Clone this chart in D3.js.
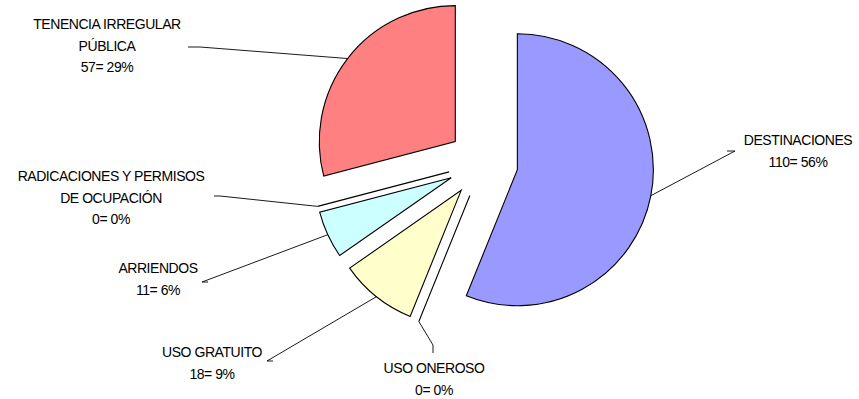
<!DOCTYPE html>
<html>
<head>
<meta charset="utf-8">
<script src="https://cdn.jsdelivr.net/npm/d3@7"></script>
<style>
  html, body { margin: 0; padding: 0; background: #fff; }
  svg { display: block; }
  text { font-family: "Liberation Sans", Arial, sans-serif; font-size: 14px; letter-spacing: -0.45px; fill: #000; }
</style>
</head>
<body>
<svg id="chart" width="859" height="399"></svg>
<script>
// ---- data ----
const categories = ["DESTINACIONES", "USO ONEROSO", "USO GRATUITO", "ARRIENDOS", "RADICACIONES Y PERMISOS DE OCUPACIÓN", "TENENCIA IRREGULAR PÚBLICA"];
const labelLines = [
  ["DESTINACIONES"],
  ["USO ONEROSO"],
  ["USO GRATUITO"],
  ["ARRIENDOS"],
  ["RADICACIONES Y PERMISOS", "DE OCUPACIÓN"],
  ["TENENCIA IRREGULAR", "PÚBLICA"]
];
const values = [110, 0, 18, 11, 0, 57];
const percents = ["56%", "0%", "9%", "6%", "0%", "29%"];
const colors = ["#9999FF", "#FFFFFF", "#FFFFCC", "#CCFFFF", "#FFFFFF", "#FF8080"];

// ---- layout (label anchors & leader elbows) ----
const layout = [
  { tx: 798, ty: 145, elbow: [735, 151], end: [727, 151] },
  { tx: 434, ty: 373, elbow: [433, 345], end: [433, 353] },
  { tx: 212, ty: 357, elbow: [267, 361], end: [273, 361] },
  { tx: 158, ty: 273, elbow: [202, 282], end: [208, 282] },
  { tx: 111, ty: 181, elbow: [220, 196], end: [214, 196] },
  { tx: 107, ty: 29,  elbow: [200, 47],  end: [188, 47] }
];

const cx = 483, cy = 163, R = 136, explode = 35, lineH = 21.6;

const svg = d3.select("#chart");
const pie = d3.pie().sort(null).value(d => d).startAngle(0).endAngle(2 * Math.PI);
const arcs = pie(values);
const arc = d3.arc().innerRadius(0).outerRadius(R);

const g = svg.append("g").attr("transform", `translate(${cx},${cy})`);

arcs.forEach((a, i) => {
  const mid = (a.startAngle + a.endAngle) / 2;
  const dx = explode * Math.sin(mid), dy = -explode * Math.cos(mid);
  g.append("path")
    .attr("d", arc(a))
    .attr("transform", `translate(${dx},${dy})`)
    .attr("fill", values[i] > 0 ? colors[i] : "none")
    .attr("stroke", "#000")
    .attr("stroke-width", 1.1)
    .attr("stroke-linejoin", "miter");
});

// leaders
arcs.forEach((a, i) => {
  const mid = (a.startAngle + a.endAngle) / 2;
  const px = cx + (explode + R) * Math.sin(mid);
  const py = cy - (explode + R) * Math.cos(mid);
  const L = layout[i];
  svg.append("polyline")
    .attr("points", [[px, py], L.elbow, L.end].map(p => p.join(",")).join(" "))
    .attr("fill", "none")
    .attr("stroke", "#000")
    .attr("stroke-width", 0.9);
});

// labels
arcs.forEach((a, i) => {
  const L = layout[i];
  const lines = labelLines[i].concat([`${values[i]}= ${percents[i]}`]);
  const t = svg.append("text").attr("text-anchor", "middle");
  lines.forEach((s, k) => {
    t.append("tspan").attr("x", L.tx).attr("y", L.ty + k * lineH).text(s);
  });
});
</script>
</body>
</html>
